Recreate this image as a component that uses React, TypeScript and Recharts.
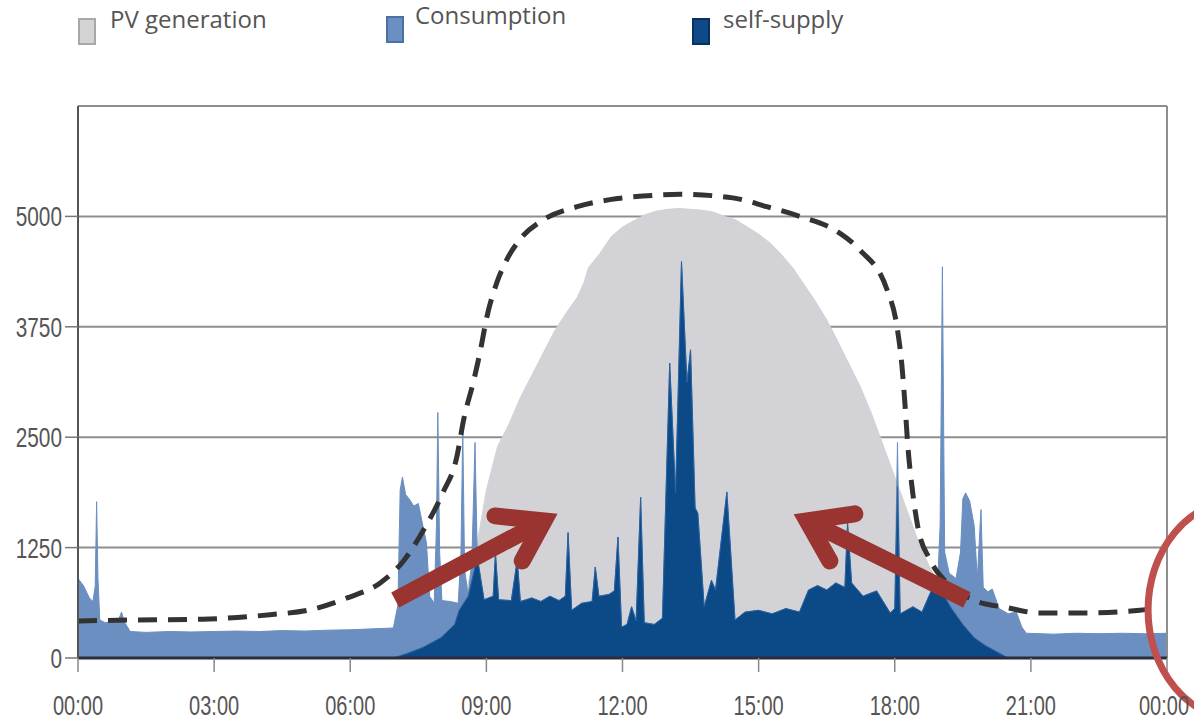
import { ComposedChart, Area, Line, XAxis, YAxis, CartesianGrid, ReferenceLine, ReferenceDot } from 'recharts';

// [hour of day, watts]
const pvGeneration: [number, number][] = [
  [6.9, 0], [7.0, 30], [7.25, 80], [7.5, 150], [7.75, 230], [8.0, 300], [8.25, 400], [8.5, 650],
  [8.75, 1150], [9.0, 1900], [9.25, 2400], [9.5, 2650], [9.75, 2950], [10.0, 3200], [10.25, 3450],
  [10.5, 3700], [10.75, 3900], [11.0, 4080], [11.15, 4250], [11.25, 4420], [11.5, 4580], [11.75, 4770],
  [12.0, 4880], [12.25, 4950], [12.5, 5020], [12.75, 5060], [13.0, 5080], [13.25, 5090], [13.5, 5080],
  [13.75, 5070], [14.0, 5050], [14.25, 5000], [14.5, 4960], [14.75, 4880], [15.0, 4800], [15.25, 4700],
  [15.5, 4570], [15.75, 4420], [16.0, 4230], [16.25, 4040], [16.5, 3830], [16.75, 3580], [17.0, 3320],
  [17.25, 3060], [17.5, 2750], [17.75, 2400], [18.0, 2050], [18.25, 1700], [18.5, 1350], [18.75, 1050],
  [19.0, 800], [19.25, 560], [19.5, 380], [19.75, 230], [20.0, 140], [20.25, 70], [20.5, 20], [20.75, 0],
];

const consumption: [number, number][] = [
  [0, 900], [0.12, 820], [0.25, 680], [0.33, 640], [0.38, 820], [0.41, 1770], [0.44, 900], [0.48, 430],
  [0.6, 400], [0.8, 410], [0.9, 440], [0.96, 520], [1.02, 410], [1.15, 300], [1.5, 290], [2.0, 300],
  [2.5, 295], [3.0, 300], [3.5, 305], [4.0, 300], [4.5, 310], [5.0, 305], [5.5, 315], [6.0, 320],
  [6.5, 330], [6.95, 340], [7.05, 600], [7.1, 1900], [7.15, 2050], [7.22, 1850], [7.3, 1800], [7.4, 1720],
  [7.5, 1750], [7.6, 1500], [7.68, 1300], [7.75, 700], [7.85, 620], [7.9, 1500], [7.93, 2780], [7.97, 1200],
  [8.02, 650], [8.2, 640], [8.38, 620], [8.44, 1200], [8.48, 2580], [8.52, 1000], [8.6, 700], [8.68, 1100],
  [8.75, 2440], [8.8, 1140], [8.95, 660], [9.15, 700], [9.2, 1190], [9.27, 660], [9.55, 650], [9.68, 1110],
  [9.75, 640], [10.0, 680], [10.2, 640], [10.4, 700], [10.6, 650], [10.74, 700], [10.8, 1420], [10.88, 540],
  [11.1, 620], [11.33, 640], [11.4, 1030], [11.48, 700], [11.7, 720], [11.82, 760], [11.9, 1370], [11.98, 350],
  [12.1, 380], [12.2, 580], [12.3, 420], [12.4, 1820], [12.48, 400], [12.7, 380], [12.88, 450], [13.04, 3340],
  [13.17, 1870], [13.3, 4490], [13.42, 3120], [13.5, 3490], [13.6, 1700], [13.66, 1640], [13.8, 580],
  [13.96, 880], [14.05, 770], [14.3, 1880], [14.48, 430], [14.7, 520], [15.0, 540], [15.3, 500], [15.6, 560],
  [15.9, 520], [16.1, 770], [16.3, 820], [16.5, 770], [16.7, 850], [16.9, 800], [16.96, 1530], [17.05, 850],
  [17.3, 700], [17.6, 760], [17.9, 510], [18.0, 560], [18.06, 2440], [18.12, 500], [18.4, 580], [18.6, 520],
  [18.83, 790], [18.95, 900], [19.0, 1500], [19.05, 4430], [19.1, 1200], [19.2, 960], [19.35, 900],
  [19.45, 1200], [19.5, 1800], [19.56, 1870], [19.65, 1780], [19.75, 1500], [19.82, 900], [19.9, 1680],
  [19.95, 800], [20.05, 750], [20.15, 780], [20.3, 560], [20.5, 500], [20.68, 520], [20.8, 350], [20.9, 280],
  [21.5, 270], [22.0, 280], [22.5, 275], [23.0, 280], [23.5, 275], [24.0, 280],
];

const selfSupply: [number, number][] = [
  [6.95, 0], [7.3, 60], [7.6, 120], [8.0, 230], [8.3, 380], [8.4, 540], [8.6, 700], [8.8, 1140], [8.95, 660],
  [9.15, 700], [9.2, 1190], [9.27, 660], [9.55, 650], [9.68, 1110], [9.75, 640], [10.0, 680], [10.2, 640],
  [10.4, 700], [10.6, 650], [10.74, 700], [10.8, 1420], [10.88, 540], [11.1, 620], [11.33, 640], [11.4, 1030],
  [11.48, 700], [11.7, 720], [11.82, 760], [11.9, 1370], [11.98, 350], [12.1, 380], [12.2, 580], [12.3, 420],
  [12.4, 1820], [12.48, 400], [12.7, 380], [12.88, 450], [13.04, 3340], [13.17, 1870], [13.3, 4490],
  [13.42, 3120], [13.5, 3490], [13.6, 1700], [13.66, 1640], [13.8, 580], [13.96, 880], [14.05, 770],
  [14.3, 1880], [14.48, 430], [14.7, 520], [15.0, 540], [15.3, 500], [15.6, 560], [15.9, 520], [16.1, 770],
  [16.3, 820], [16.5, 770], [16.7, 850], [16.9, 800], [16.96, 1530], [17.05, 850], [17.3, 700], [17.6, 760],
  [17.9, 510], [18.0, 560], [18.06, 1940], [18.12, 500], [18.4, 580], [18.6, 520], [18.83, 790], [19.0, 780],
  [19.25, 560], [19.5, 380], [19.75, 230], [20.0, 140], [20.25, 70], [20.5, 0],
];

// hand-drawn dashed outline around the midday PV hump
const dashedOutline: [number, number][] = [
  [0, 420], [1.15, 430], [2.75, 440], [4.23, 490], [5.11, 545], [5.93, 680], [6.66, 850], [7.16, 1090],
  [7.65, 1480], [8.04, 1870], [8.35, 2280], [8.5, 2700], [8.71, 3120], [8.86, 3460], [9.01, 3860],
  [9.23, 4250], [9.45, 4510], [9.74, 4740], [10.25, 4960], [11.0, 5110], [11.72, 5190], [12.45, 5230],
  [13.27, 5250], [14.43, 5210], [15.18, 5110], [15.91, 5000], [16.73, 4830], [17.23, 4620], [17.83, 4170],
  [18.05, 3750], [18.16, 3300], [18.23, 2840], [18.29, 2390], [18.38, 1940], [18.51, 1480], [18.78, 1110],
  [19.15, 850], [19.72, 660], [20.47, 570], [21.2, 510], [22.24, 510], [23.4, 540], [23.63, 555],
];

// red arrows: shaft (tail -> head) and chevron (arm, tip, arm)
const leftArrowShaft: [number, number][] = [[6.99, 657], [10.27, 1552]];
const leftArrowHead: [number, number][] = [[9.19, 1609], [10.27, 1552], [9.79, 1099]];
const rightArrowShaft: [number, number][] = [[19.59, 657], [16.07, 1552]];
const rightArrowHead: [number, number][] = [[17.12, 1632], [16.07, 1552], [16.57, 1099]];
const circleCenter: [number, number] = [25.61, 544];

const yTicks = [0, 1250, 2500, 3750, 5000];
const xTicks = [0, 3, 6, 9, 12, 15, 18, 21, 24];

const legendItems = [
  { label: 'PV generation', color: '#d4d4d6', border: '#a8a8a8', x: 78, y: 18, tx: 110, ty: 2 },
  { label: 'Consumption', color: '#6b8fc0', border: '#4c70a2', x: 386, y: 16, tx: 415, ty: -2 },
  { label: 'self-supply', color: '#0d4a87', border: '#07325f', x: 692, y: 18, tx: 723, ty: 2 },
];

const toPoints = (pairs: [number, number][]) => pairs.map(([h, v]) => ({ h, v }));
const hourLabel = (h: number) => `${String(h % 24).padStart(2, '0')}:00`;

const axisFont = "'Liberation Sans', Arial, sans-serif";
const ARROW = '#9a3431';

// tall, narrow axis lettering: small type stretched vertically
function XTick({ x, y, payload }: any) {
  const last = payload.value === 24;
  return (
    <text transform={`translate(${last ? x - 3 : x}, ${y + 19}) scale(1, 1.38)`} textAnchor="middle"
      fontFamily={axisFont} fontSize={20} fill="#555">
      {hourLabel(payload.value)}
    </text>
  );
}

function YTick({ x, y, payload }: any) {
  return (
    <text transform={`translate(${x}, ${y + 10}) scale(1.04, 1.38)`} textAnchor="end"
      fontFamily={axisFont} fontSize={20} fill="#555">
      {payload.value}
    </text>
  );
}

export default function App() {
  return (
    <div style={{ position: 'absolute', left: 0, top: 0, width: 1194, height: 721, background: '#fff' }}>
      {legendItems.map((item) => (
        <div key={item.label}>
          <div
            style={{
              position: 'absolute',
              left: item.x,
              top: item.y,
              width: 18,
              height: 27,
              background: item.color,
              border: `2px solid ${item.border}`,
              boxSizing: 'border-box',
            }}
          />
          <div
            style={{
              position: 'absolute',
              left: item.tx,
              top: item.ty,
              fontFamily: "'Open Sans', sans-serif",
              fontSize: 24,
              color: '#555',
              whiteSpace: 'nowrap',
            }}
          >
            {item.label}
          </div>
        </div>
      ))}
      <ComposedChart
        width={1194}
        height={721}
        margin={{ top: 106, right: 27, bottom: 0, left: 0 }}
        style={{ position: 'absolute', left: 0, top: 0 }}
      >
        <CartesianGrid vertical={false} stroke="#8e8e8e" strokeWidth={2} />
        <XAxis
          dataKey="h"
          type="number"
          domain={[0, 24]}
          ticks={xTicks}
          allowDataOverflow
          height={63}
          tickSize={14}
          tickMargin={24}
          tick={<XTick />}
          axisLine={{ stroke: '#2b2d3a', strokeWidth: 3 }}
          tickLine={{ stroke: '#888', strokeWidth: 1.5 }}
        />
        <YAxis
          type="number"
          domain={[0, 6250]}
          ticks={yTicks}
          width={78}
          tickSize={13}
          tickMargin={3}
          tick={<YTick />}
          axisLine={{ stroke: '#555', strokeWidth: 2 }}
          tickLine={{ stroke: '#777', strokeWidth: 1.5 }}
        />
        <ReferenceLine y={6250} stroke="#8e8e8e" strokeWidth={2} />
        <ReferenceLine x={24} stroke="#8e8e8e" strokeWidth={2} />

        <Area data={toPoints(pvGeneration)} dataKey="v" type="linear" fill="#d3d3d7" fillOpacity={1} stroke="#d3d3d7" strokeWidth={1} isAnimationActive={false} />
        <Area data={toPoints(consumption)} dataKey="v" type="linear" fill="#6a8fc0" fillOpacity={1} stroke="#6a8fc0" strokeWidth={1} isAnimationActive={false} />
        <Area data={toPoints(selfSupply)} dataKey="v" type="linear" fill="#0c4a87" fillOpacity={1} stroke="#2a62a0" strokeWidth={1} isAnimationActive={false} />

        <Line data={toPoints(dashedOutline)} dataKey="v" type="monotone" stroke="#333" strokeWidth={5} strokeDasharray="19 11" dot={false} isAnimationActive={false} />

        <Line data={toPoints(leftArrowShaft)} dataKey="v" type="linear" stroke={ARROW} strokeWidth={17} strokeLinecap="butt" dot={false} isAnimationActive={false} />
        <Line data={toPoints(leftArrowHead)} dataKey="v" type="linear" stroke={ARROW} strokeWidth={17} strokeLinecap="round" strokeLinejoin="miter" fill="none" dot={false} isAnimationActive={false} />
        <Line data={toPoints(rightArrowShaft)} dataKey="v" type="linear" stroke={ARROW} strokeWidth={17} strokeLinecap="butt" dot={false} isAnimationActive={false} />
        <Line data={toPoints(rightArrowHead)} dataKey="v" type="linear" stroke={ARROW} strokeWidth={17} strokeLinecap="round" strokeLinejoin="miter" fill="none" dot={false} isAnimationActive={false} />

        <ReferenceDot
          x={circleCenter[0]}
          y={circleCenter[1]}
          ifOverflow="visible"
          shape={(p: any) => (
            <ellipse cx={p.cx} cy={p.cy} rx={92} ry={110} fill="none" stroke="#c0504d" strokeWidth={7} />
          )}
        />
      </ComposedChart>
    </div>
  );
}
